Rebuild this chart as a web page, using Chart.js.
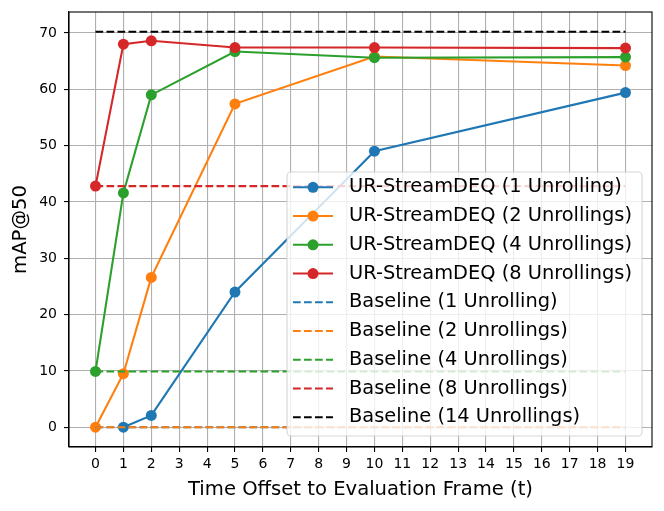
<!DOCTYPE html>
<html>
<head>
<meta charset="utf-8">
<script src="https://cdn.jsdelivr.net/npm/chart.js@4/dist/chart.umd.min.js"></script>
<style>
  html, body { margin: 0; padding: 0; background: #fff; }
  #wrap { width: 664px; height: 511px; }
</style>
</head>
<body>
<div id="wrap"><canvas id="chart"></canvas></div>
<script>
// time offsets (x) and measured mAP@50 per model
const timeOffsets = [0, 1, 2, 5, 10, 19];
const ur1 = [null, 0, 2.1, 24.0, 49.0, 59.4];
const ur2 = [0, 9.5, 26.6, 57.4, 65.8, 64.2];
const ur4 = [9.9, 41.6, 59.0, 66.7, 65.6, 65.7];
const ur8 = [42.8, 68.0, 68.6, 67.4, 67.4, 67.3];

// baselines: flat values across the whole offset range
const baselineNames = ['Baseline (1 Unrolling)', 'Baseline (2 Unrollings)', 'Baseline (4 Unrollings)',
  'Baseline (8 Unrollings)', 'Baseline (14 Unrollings)'];
const baselineValues = [0, 0, 9.9, 42.8, 70.2];

const urNames = ['UR-StreamDEQ (1 Unrolling)', 'UR-StreamDEQ (2 Unrollings)',
  'UR-StreamDEQ (4 Unrollings)', 'UR-StreamDEQ (8 Unrollings)'];

const xTicks = [0, 1, 2, 3, 4, 5, 6, 7, 8, 9, 10, 11, 12, 13, 14, 15, 16, 17, 18, 19];
const yTicks = [0, 10, 20, 30, 40, 50, 60, 70];

const urColors = ['#1f77b4', '#ff7f0e', '#2ca02c', '#d62728'];
const baseColors = ['#1f77b4', '#ff7f0e', '#2ca02c', '#d62728', '#000000'];
const DASH = [7.7, 3.3];

Chart.defaults.font.family = '"DejaVu Sans"';
Chart.defaults.color = '#000';

const toPoints = (ys) => timeOffsets.map((x, i) => ({ x: x, y: ys[i] })).filter(p => p.y !== null);

const datasets = [];
[ur1, ur2, ur4, ur8].forEach((ys, i) => {
  datasets.push({
    label: urNames[i],
    data: toPoints(ys),
    borderColor: urColors[i],
    backgroundColor: urColors[i],
    borderWidth: 2.1,
    pointRadius: 5.5,
    pointHoverRadius: 5.5,
    pointBorderWidth: 0,
    tension: 0,
    isBaseline: false
  });
});
baselineValues.forEach((v, i) => {
  datasets.push({
    label: baselineNames[i],
    data: [{ x: timeOffsets[0], y: v }, { x: timeOffsets[timeOffsets.length - 1], y: v }],
    borderColor: baseColors[i],
    backgroundColor: baseColors[i],
    borderWidth: 2.1,
    borderDash: DASH,
    pointRadius: 0,
    tension: 0,
    isBaseline: true
  });
});
// later series on top, like matplotlib
datasets.forEach((d, i) => { d.order = datasets.length - i; });

// axes frame (all four spines)
const framePlugin = {
  id: 'frame',
  afterDatasetsDraw(chart) {
    const { ctx, chartArea: a } = chart;
    ctx.save();
    ctx.strokeStyle = '#000';
    ctx.lineWidth = 1.1;
    ctx.strokeRect(a.left, a.top, a.right - a.left, a.bottom - a.top);
    ctx.restore();
  }
};

// legend inside the axes, semi-transparent box
const legendBox = {
  id: 'legendBox',
  afterDatasetsDraw(chart) {
    const { ctx } = chart;
    const left = 287, top = 172, w = 355, h = 264, r = 4;
    ctx.save();
    ctx.beginPath();
    ctx.roundRect(left, top, w, h, r);
    ctx.fillStyle = 'rgba(255,255,255,0.8)';
    ctx.fill();
    ctx.strokeStyle = 'rgba(204,204,204,0.8)';
    ctx.lineWidth = 1.1;
    ctx.stroke();

    ctx.font = '19.4px "DejaVu Sans"';
    ctx.textBaseline = 'middle';
    ctx.fillStyle = '#000';
    const items = chart.data.datasets;
    items.forEach((d, i) => {
      const y = 187.3 + i * 28.75;
      ctx.strokeStyle = d.borderColor;
      ctx.lineWidth = 2.1;
      ctx.setLineDash(d.isBaseline ? DASH : []);
      ctx.beginPath();
      ctx.moveTo(293, y);
      ctx.lineTo(333, y);
      ctx.stroke();
      ctx.setLineDash([]);
      if (!d.isBaseline) {
        ctx.beginPath();
        ctx.arc(313, y, 5.5, 0, Math.PI * 2);
        ctx.fillStyle = d.backgroundColor;
        ctx.fill();
      }
      ctx.fillStyle = '#000';
      ctx.fillText(d.label, 349, y);
    });
    ctx.restore();
  }
};

new Chart(document.getElementById('chart'), {
  type: 'line',
  data: { datasets: datasets },
  options: {
    responsive: true,
    maintainAspectRatio: false,
    animation: false,
    layout: { padding: { top: 12, right: 12, left: 0, bottom: 0 } },
    plugins: { legend: { display: false }, tooltip: { enabled: false } },
    scales: {
      x: {
        type: 'linear',
        min: -0.95,
        max: 19.95,
        afterBuildTicks: (s) => { s.ticks = xTicks.map(v => ({ value: v })); },
        afterFit: (s) => { s.height = 64; s.paddingLeft = 0; s.paddingRight = 0; },
        ticks: { font: { size: 14 }, padding: 4, maxRotation: 0, autoSkip: false, callback: (v) => String(v) },
        grid: { color: '#b0b0b0', lineWidth: 1.1, tickLength: 5, tickColor: '#000', tickWidth: 1.1 },
        border: { color: '#000', width: 1.1 },
        title: { display: true, text: 'Time Offset to Evaluation Frame (t)', font: { size: 19.6 }, padding: { top: 0, bottom: 9 } }
      },
      y: {
        min: -3.51,
        max: 73.71,
        afterBuildTicks: (s) => { s.ticks = yTicks.map(v => ({ value: v })); },
        afterFit: (s) => { s.width = 69; s.paddingTop = 0; s.paddingBottom = 0; },
        ticks: { font: { size: 14 }, padding: 7, callback: (v) => String(v) },
        grid: { color: '#b0b0b0', lineWidth: 1.1, tickLength: 5, tickColor: '#000', tickWidth: 1.1 },
        border: { color: '#000', width: 1.1 },
        title: { display: true, text: 'mAP@50', font: { size: 19.6 }, padding: { top: 9, bottom: 0 } }
      }
    }
  },
  plugins: [framePlugin, legendBox]
});
</script>
</body>
</html>
